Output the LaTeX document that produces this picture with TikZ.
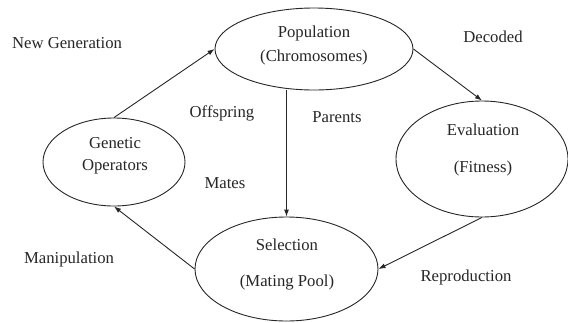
\documentclass[tikz,border=0pt]{standalone}
\usepackage{fontspec}
\setmainfont{Liberation Serif}
\usetikzlibrary{shapes.geometric,arrows.meta}
\begin{document}
\begin{tikzpicture}[x=1pt, y=-1pt, line width=0.9pt, color=black!85,
	every node/.style = {align=center, font=\fontsize{16.7}{24}\selectfont},
	stage/.style = {shape=ellipse, draw, inner sep=0pt},
	flow/.style = {-{Latex[length=7pt,width=5pt]}}]
	\useasboundingbox (0,0) rectangle (568,322);
	% the four stages
	\node[stage, minimum width=198pt, minimum height=82pt] (pop) at (314,49) {};
	\node (pop-t) at (314,45) {Population\\(Chromosomes)};
	\node[stage, minimum width=172pt, minimum height=116pt] (eval) at (482,159) {};
	\node (eval-t) at (483,150) {Evaluation\\[13pt](Fitness)};
	\node[stage, minimum width=183pt, minimum height=104pt] (sel) at (286.5,269) {};
	\node (sel-t) at (287,265) {Selection\\[12pt](Mating Pool)};
	\node[stage, minimum width=142pt, minimum height=88pt] (ops) at (114,162) {};
	\node (ops-t) at (115,156) {Genetic\\[-2pt]Operators};
	% connectors
	\draw[flow] (pop.east) -- (eval.north);
	\draw[flow] (sel.north |- pop.south) -- (sel.north);
	\draw[flow] (eval.south) -- (sel.east);
	\draw[flow] (sel.west) -- (ops.south);
	\draw[flow] (ops.north) -- (pop.west);
	% labels
	\node (newgen) at (67,43) {New Generation};
	\node (decoded) at (493,37) {Decoded};
	\node (offspring) at (222,113) {Offspring};
	\node (parents) at (337,117) {Parents};
	\node (mates) at (225,183) {Mates};
	\node (manip) at (69,259) {Manipulation};
	\node (repro) at (466,277) {Reproduction};
\end{tikzpicture}
\end{document}
